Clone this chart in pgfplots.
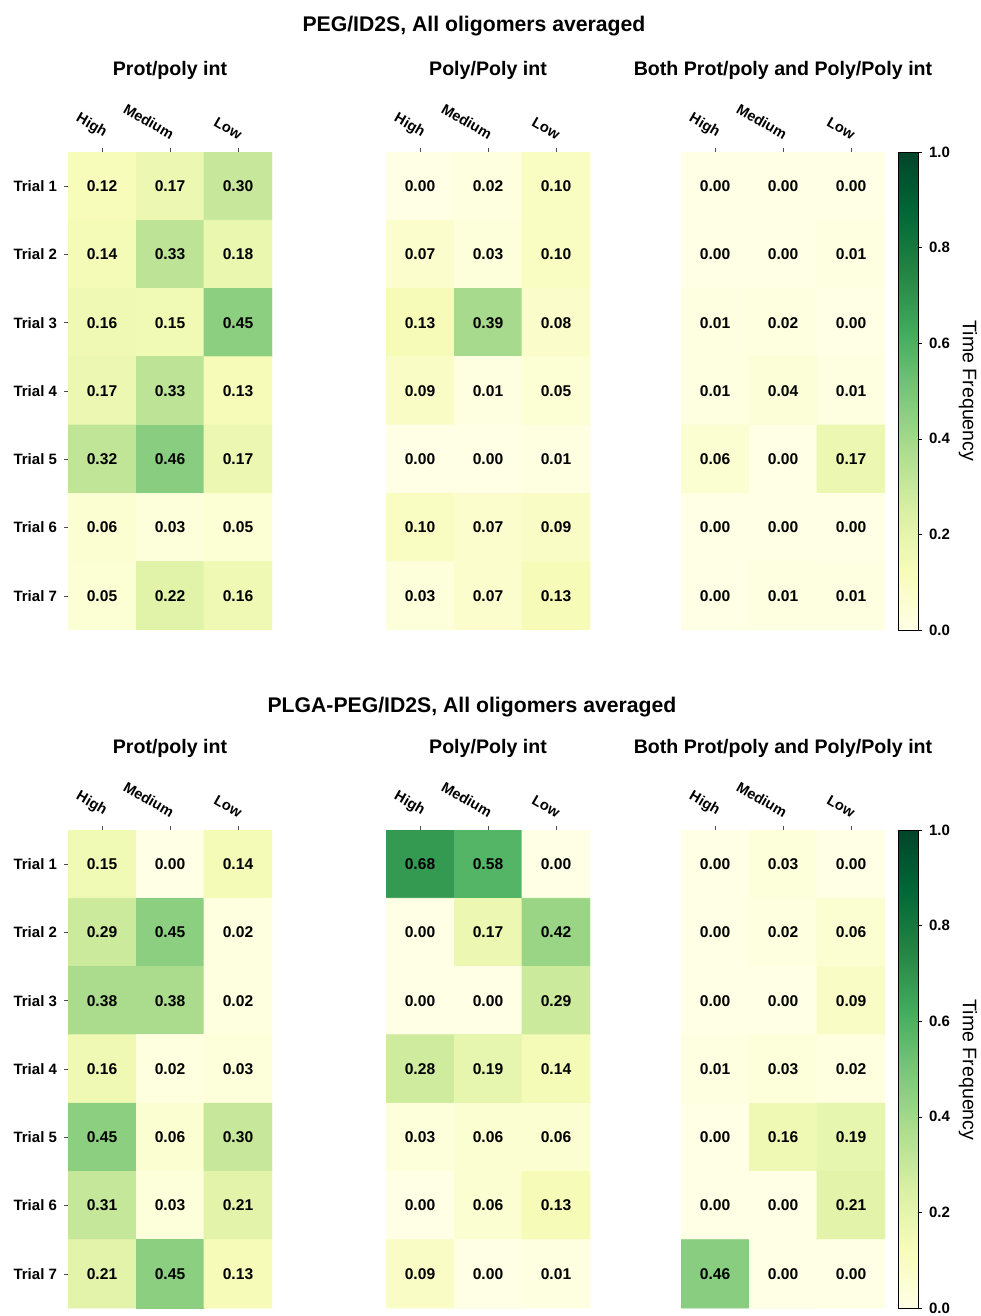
\documentclass[border=0pt]{standalone}
\usepackage{pgfplots}
\pgfplotsset{compat=1.18}
\usepackage{pgfplotstable}
\usepackage{fontspec}
\setmainfont{Liberation Sans}
\pgfplotsset{
  /pgf/number format/assume math mode=true,
  colormap={YlGn}{rgb255=(255,255,229) rgb255=(247,252,185) rgb255=(217,240,163) rgb255=(173,221,142) rgb255=(120,198,121) rgb255=(65,171,93) rgb255=(35,132,67) rgb255=(0,104,55) rgb255=(0,69,41)},
  hm/.style={
    scale only axis, width=102pt, height=239pt,
    anchor=south west,
    xmin=-0.5, xmax=2.5, ymin=0.5, ymax=7.5, y dir=reverse,
    axis line style={draw=none},
    xtick={0,1,2}, xticklabels={High,Medium,Low},
    xticklabel pos=right, xtick pos=right,
    ytick={1,2,3,4,5,6,7},
    yticklabels={Trial 1,Trial 2,Trial 3,Trial 4,Trial 5,Trial 6,Trial 7},
    ytick pos=left,
    tick align=outside, major tick length=2pt,
    tick style={black!70, line width=0.3pt},
    xticklabel style={rotate=-30, anchor=south east, font=\bfseries\fontsize{7.3}{8}\selectfont, xshift=1.5pt},
    yticklabel style={font=\bfseries\fontsize{7.5}{8}\selectfont},
    point meta min=0, point meta max=1,
    colormap name=YlGn,
    title style={font=\bfseries\fontsize{9.8}{11}\selectfont, at={(0.5,1)}, anchor=center, yshift=35pt},
  },
  noy/.style={ytick=\empty},
  hmplot/.style={matrix plot*, mesh/cols=3, point meta=explicit,
    nodes near coords={\pgfmathprintnumber[fixed,fixed zerofill,precision=2]{\pgfplotspointmeta}},
    nodes near coords align=center,
    every node near coord/.append style={font=\bfseries\fontsize{7.8}{8}\selectfont, text=black, anchor=center}},
  cb/.style={colorbar, colorbar style={at={(parent axis.north east)}, anchor=north west, xshift=-2pt,
    width=10pt, height=239pt, scale only axis,
    ytick={0,0.2,0.4,0.6,0.8,1}, ytick pos=right, yticklabel pos=right,
    tick align=outside, major tick length=2pt,
    tick style={black, line width=0.3pt},
    axis line style={black, line width=0.4pt},
    yticklabel style={font=\bfseries\fontsize{7.5}{8}\selectfont, /pgf/number format/.cd, fixed, fixed zerofill, precision=1, assume math mode=true}}},
}
% top: PEG/ID2S
\pgfplotstableread{
x y z
0 1 0.12
1 1 0.17
2 1 0.30
0 2 0.14
1 2 0.33
2 2 0.18
0 3 0.16
1 3 0.15
2 3 0.45
0 4 0.17
1 4 0.33
2 4 0.13
0 5 0.32
1 5 0.46
2 5 0.17
0 6 0.06
1 6 0.03
2 6 0.05
0 7 0.05
1 7 0.22
2 7 0.16
}\tA
\pgfplotstableread{
x y z
0 1 0.00
1 1 0.02
2 1 0.10
0 2 0.07
1 2 0.03
2 2 0.10
0 3 0.13
1 3 0.39
2 3 0.08
0 4 0.09
1 4 0.01
2 4 0.05
0 5 0.00
1 5 0.00
2 5 0.01
0 6 0.10
1 6 0.07
2 6 0.09
0 7 0.03
1 7 0.07
2 7 0.13
}\tB
\pgfplotstableread{
x y z
0 1 0.00
1 1 0.00
2 1 0.00
0 2 0.00
1 2 0.00
2 2 0.01
0 3 0.01
1 3 0.02
2 3 0.00
0 4 0.01
1 4 0.04
2 4 0.01
0 5 0.06
1 5 0.00
2 5 0.17
0 6 0.00
1 6 0.00
2 6 0.00
0 7 0.00
1 7 0.01
2 7 0.01
}\tC
% bottom: PLGA-PEG/ID2S
\pgfplotstableread{
x y z
0 1 0.15
1 1 0.00
2 1 0.14
0 2 0.29
1 2 0.45
2 2 0.02
0 3 0.38
1 3 0.38
2 3 0.02
0 4 0.16
1 4 0.02
2 4 0.03
0 5 0.45
1 5 0.06
2 5 0.30
0 6 0.31
1 6 0.03
2 6 0.21
0 7 0.21
1 7 0.45
2 7 0.13
}\tD
\pgfplotstableread{
x y z
0 1 0.68
1 1 0.58
2 1 0.00
0 2 0.00
1 2 0.17
2 2 0.42
0 3 0.00
1 3 0.00
2 3 0.29
0 4 0.28
1 4 0.19
2 4 0.14
0 5 0.03
1 5 0.06
2 5 0.06
0 6 0.00
1 6 0.06
2 6 0.13
0 7 0.09
1 7 0.00
2 7 0.01
}\tE
\pgfplotstableread{
x y z
0 1 0.00
1 1 0.03
2 1 0.00
0 2 0.00
1 2 0.02
2 2 0.06
0 3 0.00
1 3 0.00
2 3 0.09
0 4 0.01
1 4 0.03
2 4 0.02
0 5 0.00
1 5 0.16
2 5 0.19
0 6 0.00
1 6 0.00
2 6 0.21
0 7 0.46
1 7 0.00
2 7 0.00
}\tF
\begin{document}
\begin{tikzpicture}
\path[use as bounding box] (0,0) rectangle (490pt,658pt);
\node[font=\bfseries\fontsize{10.6}{12}\selectfont] at (237pt,645pt) {PEG/ID2S, All oligomers averaged};
\node[font=\bfseries\fontsize{10.6}{12}\selectfont] at (236pt,304.5pt) {PLGA-PEG/ID2S, All oligomers averaged};
% top row
\begin{axis}[hm, at={(34pt,343pt)}, title={Prot/poly int}]
\addplot[hmplot] table[x=x,y=y,meta=z] {\tA};
\end{axis}
\begin{axis}[hm, noy, at={(193pt,343pt)}, title={Poly/Poly int}]
\addplot[hmplot] table[x=x,y=y,meta=z] {\tB};
\end{axis}
\begin{axis}[hm, noy, at={(340.5pt,343pt)}, title={Both Prot/poly and Poly/Poly int}, cb]
\addplot[hmplot] table[x=x,y=y,meta=z] {\tC};
\end{axis}
% bottom row
\begin{axis}[hm, at={(34pt,4pt)}, title={Prot/poly int}]
\addplot[hmplot] table[x=x,y=y,meta=z] {\tD};
\end{axis}
\begin{axis}[hm, noy, at={(193pt,4pt)}, title={Poly/Poly int}]
\addplot[hmplot] table[x=x,y=y,meta=z] {\tE};
\end{axis}
\begin{axis}[hm, noy, at={(340.5pt,4pt)}, title={Both Prot/poly and Poly/Poly int}, cb]
\addplot[hmplot] table[x=x,y=y,meta=z] {\tF};
\end{axis}
\node[rotate=-90, font=\fontsize{9.8}{11}\selectfont] at (484pt,462.5pt) {Time Frequency};
\node[rotate=-90, font=\fontsize{9.8}{11}\selectfont] at (484pt,123pt) {Time Frequency};
\end{tikzpicture}
\end{document}
